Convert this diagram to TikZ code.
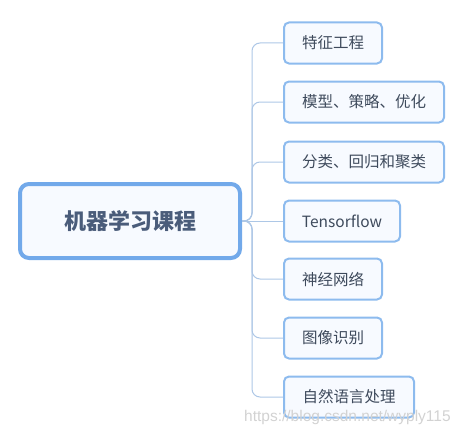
\documentclass[tikz,border=0pt]{standalone}
\usepackage{fontspec}
\setmainfont{Noto Sans CJK SC}
\newfontfamily\wmfont{Liberation Sans}
\definecolor{rootline}{HTML}{72A9EA}
\definecolor{childline}{HTML}{8DBBEE}
\definecolor{boxfill}{HTML}{F7FAFF}
\definecolor{connline}{HTML}{ADC7E6}
\definecolor{txt}{HTML}{3E4A5C}
\definecolor{roottxt}{HTML}{4A5C7A}
\definecolor{wm}{HTML}{D2D2D2}
\begin{document}
\begin{tikzpicture}[x=1pt,y=-1pt,
  rootbox/.style={draw=rootline,line width=4pt,fill=boxfill,rounded corners=9pt,
    minimum width=220pt,minimum height=74pt,inner sep=0pt,text=roottxt,
    font=\fontsize{22}{25}\selectfont\bfseries},
  childbox/.style={draw=childline,line width=2pt,fill=boxfill,rounded corners=5pt,
    minimum height=41pt,inner sep=0pt,anchor=west,text=txt,
    font=\fontsize{15.5}{18}\selectfont},
  conn/.style={draw=connline,line width=1pt,rounded corners=8pt}]
\useasboundingbox (0,0) rectangle (460,436);
\node[rootbox] (root) at (130,221) {机器学习课程};
\node[childbox,minimum width=98pt]  (c1) at (283,43)  {特征工程};
\node[childbox,minimum width=160pt] (c2) at (283,102) {模型、策略、优化};
\node[childbox,minimum width=160pt] (c3) at (283,162) {分类、回归和聚类};
\node[childbox,minimum width=116pt] (c4) at (283,221) {Tensorflow};
\node[childbox,minimum width=98pt]  (c5) at (283,279) {神经网络};
\node[childbox,minimum width=98pt]  (c6) at (283,338) {图像识别};
\node[childbox,minimum width=130pt] (c7) at (283,397) {自然语言处理};
\coordinate (trunk) at (252,221);
\foreach \c in {c1,c2,c3,c5,c6,c7}{
  \draw[conn] (root.east) -- (trunk) |- (\c.west);
}
\draw[conn] (root.east) -- (c4.west);
\node[text=wm,font=\wmfont\fontsize{15.5}{18}\selectfont,anchor=west,inner sep=0pt] (wmk) at (244,417) {https://blog.csdn.net/wyply115};
\end{tikzpicture}
\end{document}
